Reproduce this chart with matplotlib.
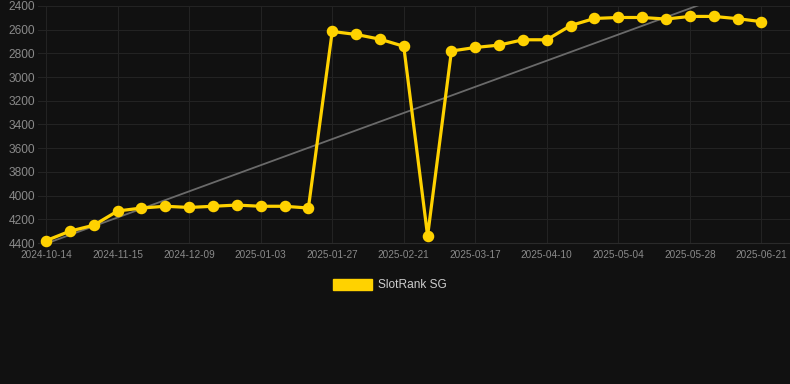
import matplotlib.pyplot as plt

dates = ["2024-10-14", "2024-10-25", "2024-11-04", "2024-11-15", "2024-11-23",
         "2024-12-01", "2024-12-09", "2024-12-17", "2024-12-25", "2025-01-03",
         "2025-01-11", "2025-01-19", "2025-01-27", "2025-02-04", "2025-02-12",
         "2025-02-21", "2025-03-01", "2025-03-09", "2025-03-17", "2025-03-25",
         "2025-04-02", "2025-04-10", "2025-04-18", "2025-04-26", "2025-05-04",
         "2025-05-12", "2025-05-20", "2025-05-28", "2025-06-05", "2025-06-13",
         "2025-06-21"]
rank = [4380, 4300, 4250, 4130, 4105, 4090, 4100, 4090, 4080, 4090,
        4090, 4105, 2615, 2640, 2680, 2740, 4340, 2780, 2750, 2730,
        2685, 2685, 2565, 2505, 2497, 2497, 2510, 2488, 2488, 2507,
        2532]
trend = [4405, 2200]  # trend line at first and last point

bg = "#111111"
gold = "#FFD200"

plt.rcParams['font.family'] = ['Liberation Sans', 'DejaVu Sans']

fig = plt.figure(figsize=(7.9, 3.84), dpi=100, facecolor=bg)
ax = fig.add_axes([38 / 790, 141 / 384, 752 / 790, 237 / 384], facecolor=bg)

x = list(range(len(rank)))
ax.plot([0, len(rank) - 1], trend, color="#6a6a6a", lw=1.3, zorder=2)
ax.plot(x, rank, color=gold, lw=2.3, marker="o", ms=7.3, mfc=gold, mec=gold,
        solid_joinstyle="miter", clip_on=False, zorder=3, label="SlotRank SG")

ax.set_ylim(4400, 2400)
ax.set_xlim(-0.34, 31.2)
ax.set_yticks(range(2400, 4401, 200))
ax.set_xticks(x[::3])
ax.set_xticklabels(dates[::3])

ax.grid(True, color="#232323", lw=0.8)
ax.set_axisbelow(True)
for s in ax.spines.values():
    s.set_visible(False)
ax.spines['bottom'].set_visible(True)
ax.spines['bottom'].set_color("#2a2a2a")
ax.tick_params(axis='y', length=0, pad=2, labelsize=8.6, labelcolor="#8a8a8a")
ax.tick_params(axis='x', length=0, pad=5, labelsize=7.2, labelcolor="#8a8a8a")

leg_ax = fig.add_axes([0, 0, 1, 1], facecolor="none")
leg_ax.set_axis_off()
leg_ax.set_xlim(0, 790)
leg_ax.set_ylim(384, 0)
leg_ax.add_patch(plt.Rectangle((333, 279), 39, 11, color=gold))
leg_ax.text(378, 285, "SlotRank SG", color="#cccccc", fontsize=8.6, va="center", ha="left")

fig.savefig("out.png", dpi=100, facecolor=bg)
